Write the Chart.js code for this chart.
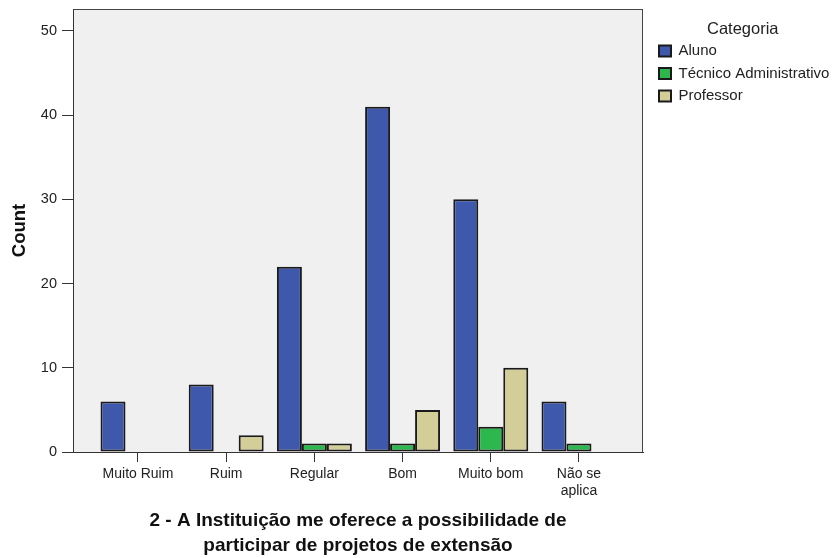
<!DOCTYPE html>
<html>
<head>
<meta charset="utf-8">
<script src="https://cdn.jsdelivr.net/npm/chart.js@4/dist/chart.umd.min.js"></script>
<style>
  html, body { margin: 0; padding: 0; background: #ffffff; }
  canvas { display: block; }
</style>
</head>
<body>
<canvas id="c" width="834" height="558"></canvas>
<script>
const categories = ['Muito Ruim', 'Ruim', 'Regular', 'Bom', 'Muito bom', ['Não se', 'aplica']];
const seriesNames = ['Aluno', 'Técnico Administrativo', 'Professor'];
const aluno = [6, 8, 22, 41, 30, 6];
const tecnico = [0, 0, 1, 1, 3, 1];
const professor = [0, 2, 1, 5, 10, 0];
const yTicks = [0, 10, 20, 30, 40, 50];
const xTitle = ['2 - A Instituição me oferece a possibilidade de', 'participar de projetos de extensão'];
const yTitle = 'Count';
const legendTitle = 'Categoria';

const colors = ['#3E58AC', '#2DB84D', '#D3CE97'];
const allSeries = [aluno, tecnico, professor];

const toPoints = arr => arr.map((v, i) => ({ x: i, y: v === 0 ? null : v }));

const noPad = s => { s.paddingTop = 0; s.paddingBottom = 0; s.paddingLeft = 0; s.paddingRight = 0; };

const plotBg = {
  id: 'plotBg',
  beforeDraw(chart) {
    const { ctx, chartArea: a } = chart;
    ctx.save();
    ctx.fillStyle = '#F0F0F0';
    ctx.fillRect(a.left, a.top, a.right - a.left, a.bottom - a.top);
    ctx.strokeStyle = '#444444';
    ctx.lineWidth = 1;
    ctx.strokeRect(a.left + 0.5, a.top + 0.5, a.right - a.left - 1, a.bottom - a.top);
    ctx.restore();
  }
};

new Chart(document.getElementById('c'), {
  type: 'bar',
  data: {
    datasets: allSeries.map((s, k) => ({
      label: seriesNames[k],
      data: toPoints(s),
      backgroundColor: colors[k],
      borderColor: '#1A1A1A',
      borderWidth: 2,
      borderSkipped: false,
      categoryPercentage: 0.85,
      barPercentage: 1.0,
      xAxisID: 'x',
      yAxisID: 'y'
    }))
  },
  options: {
    responsive: false,
    devicePixelRatio: 1,
    animation: false,
    layout: { padding: { top: 9, right: 0, bottom: 0, left: 0 } },
    plugins: {
      tooltip: { enabled: false },
      legend: {
        display: true,
        position: 'right',
        align: 'start',
        maxWidth: 182.5,
        title: {
          display: true,
          text: legendTitle,
          color: '#222222',
          font: { family: '"Liberation Sans", Arial, sans-serif', size: 16.5, lineHeight: '14px' },
          padding: { top: 12, bottom: 1 }
        },
        labels: {
          color: '#222222',
          font: { family: '"Liberation Sans", Arial, sans-serif', size: 15 },
          boxWidth: 12,
          boxHeight: 11,
          padding: 7.5
        }
      }
    },
    scales: {
      x: {
        type: 'linear',
        position: 'bottom',
        min: -0.737,
        max: 5.726,
        offset: false,
        afterBuildTicks: s => { s.ticks = categories.map((_, i) => ({ value: i })); },
        afterFit: s => { s.height = 106; noPad(s); },
        ticks: {
          autoSkip: false,
          maxRotation: 0,
          minRotation: 0,
          padding: 4,
          color: '#222222',
          font: { family: '"Liberation Sans", Arial, sans-serif', size: 14 },
          callback: v => categories[v]
        },
        grid: { offset: false, drawOnChartArea: false, drawTicks: true, tickLength: 10, color: '#333333', lineWidth: 1 },
        border: { display: true, color: '#333333', width: 1 },
        title: {
          display: true,
          text: xTitle,
          color: '#111111',
          font: { family: '"Liberation Sans", Arial, sans-serif', size: 19, weight: 'bold', lineHeight: '25px' },
          padding: { top: 0, bottom: 0 }
        }
      },
      y: {
        type: 'linear',
        position: 'left',
        min: 0,
        max: 52.6,
        afterBuildTicks: s => { s.ticks = yTicks.map(v => ({ value: v })); },
        afterFit: s => { s.width = 73; noPad(s); },
        ticks: {
          stepSize: 10,
          includeBounds: false,
          padding: 5,
          color: '#222222',
          font: { family: '"Liberation Sans", Arial, sans-serif', size: 14.5 }
        },
        grid: { drawOnChartArea: false, drawTicks: true, tickLength: 11, color: '#333333', lineWidth: 1 },
        border: { display: true, color: '#333333', width: 1 },
        title: {
          display: true,
          text: yTitle,
          color: '#111111',
          font: { family: '"Liberation Sans", Arial, sans-serif', size: 18.5, weight: 'bold' },
          padding: { top: 9, bottom: 0 }
        }
      },
      gap: {
        type: 'linear',
        position: 'right',
        display: true,
        afterFit: s => { s.width = 8.5; noPad(s); },
        ticks: { display: false },
        grid: { display: false, drawTicks: false },
        border: { display: false },
        title: { display: false }
      }
    }
  },
  plugins: [plotBg]
});
</script>
</body>
</html>
